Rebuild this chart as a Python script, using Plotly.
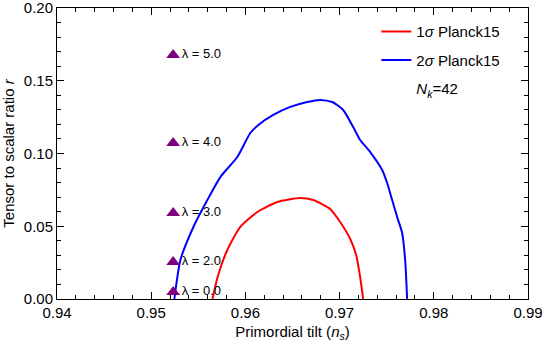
import plotly.graph_objects as go

# 2 sigma Planck15 contour
ns_2sig = [0.95246, 0.95310, 0.95448, 0.95596, 0.95734, 0.95914, 0.96052, 0.96137,
           0.96296, 0.96476, 0.96656, 0.96794, 0.96922, 0.97038, 0.97144, 0.97218,
           0.97325, 0.97452, 0.97505, 0.97558, 0.97621, 0.97664, 0.97696, 0.97717]
r_2sig = [0.0, 0.0268, 0.0495, 0.0680, 0.0838, 0.0976, 0.1141, 0.1196,
          0.1265, 0.1320, 0.1354, 0.1368, 0.1354, 0.1299, 0.1182, 0.1093,
          0.1010, 0.0887, 0.0797, 0.0680, 0.0543, 0.0454, 0.0268, 0.0]

# 1 sigma Planck15 contour
ns_1sig = [0.95651, 0.95702, 0.95808, 0.95946, 0.96126, 0.96338, 0.96582, 0.96720,
           0.96900, 0.97006, 0.97113, 0.97176, 0.97218, 0.97250]
r_1sig = [0.0, 0.0144, 0.0337, 0.0495, 0.0598, 0.0667, 0.0694, 0.0680,
          0.0619, 0.0529, 0.0412, 0.0302, 0.0151, 0.0]

# model predictions for N_k = 42
lam_vals = ["0.0", "2.0", "3.0", "4.0", "5.0"]
ns_model = [0.95233, 0.95233, 0.95233, 0.95233, 0.95233]
r_model = [0.0048, 0.0254, 0.0591, 0.1072, 0.1677]

_font = 'Liberation Sans, Arial'

fig = go.Figure()

fig.add_trace(go.Scatter(x=ns_1sig, y=r_1sig, mode='lines',
                         line=dict(color='#ff0000', width=2, shape='spline', smoothing=0.6),
                         name='1<i>σ</i> Planck15', legendgroup='a'))
fig.add_trace(go.Scatter(x=ns_2sig, y=r_2sig, mode='lines',
                         line=dict(color='#0000ff', width=2, shape='spline', smoothing=0.6),
                         name='2<i>σ</i> Planck15', legendgroup='b'))
# legend-only entry for N_k
fig.add_trace(go.Scatter(x=[None], y=[None], mode='lines',
                         line=dict(color='rgba(0,0,0,0)', width=0),
                         name='<i>N<sub>k</sub></i>=42', legendgroup='c'))

fig.add_trace(go.Scatter(x=ns_model, y=r_model, mode='markers+text',
                         marker=dict(symbol='triangle-up', size=12, color='#800080'),
                         text=['λ = ' + v for v in lam_vals],
                         textposition='middle right',
                         textfont=dict(family=_font, size=13, color='black'),
                         showlegend=False, cliponaxis=False))

_axis = dict(showline=True, linecolor='black', linewidth=1, mirror='ticks',
             ticks='inside', ticklen=7, tickcolor='black', showgrid=False,
             zeroline=False, tickformat='.2f', automargin=False,
             ticklabeloverflow='allow',
             tickfont=dict(family=_font, size=15, color='black'))

fig.update_layout(
    width=544, height=345,
    margin=dict(l=57, r=16, t=8, b=46, autoexpand=False),
    paper_bgcolor='white', plot_bgcolor='white',
    xaxis=dict(_axis, range=[0.94, 0.99], dtick=0.01,
               minor=dict(dtick=0.002, ticks='inside', ticklen=4, tickcolor='black'),
               title=dict(text='Primordial tilt (<i>n<sub>s</sub></i>)',
                          font=dict(family=_font, size=15, color='black'), standoff=6)),
    yaxis=dict(_axis, range=[0, 0.2], dtick=0.05,
               minor=dict(dtick=0.01, ticks='inside', ticklen=4, tickcolor='black'),
               title=dict(text='Tensor to scalar ratio <i>r</i>',
                          font=dict(family=_font, size=15, color='black'), standoff=6)),
    showlegend=True,
    legend=dict(x=0.678, y=0.975, xanchor='left', yanchor='top',
                font=dict(family=_font, size=15, color='black'),
                traceorder='grouped', tracegroupgap=6, itemwidth=30,
                bgcolor='rgba(0,0,0,0)'),
)

# drop the default page margin so the figure sits at the window corner
fig.write_html("out.html", config=dict(displayModeBar=False),
               post_script="document.body.style.margin='0px';")
